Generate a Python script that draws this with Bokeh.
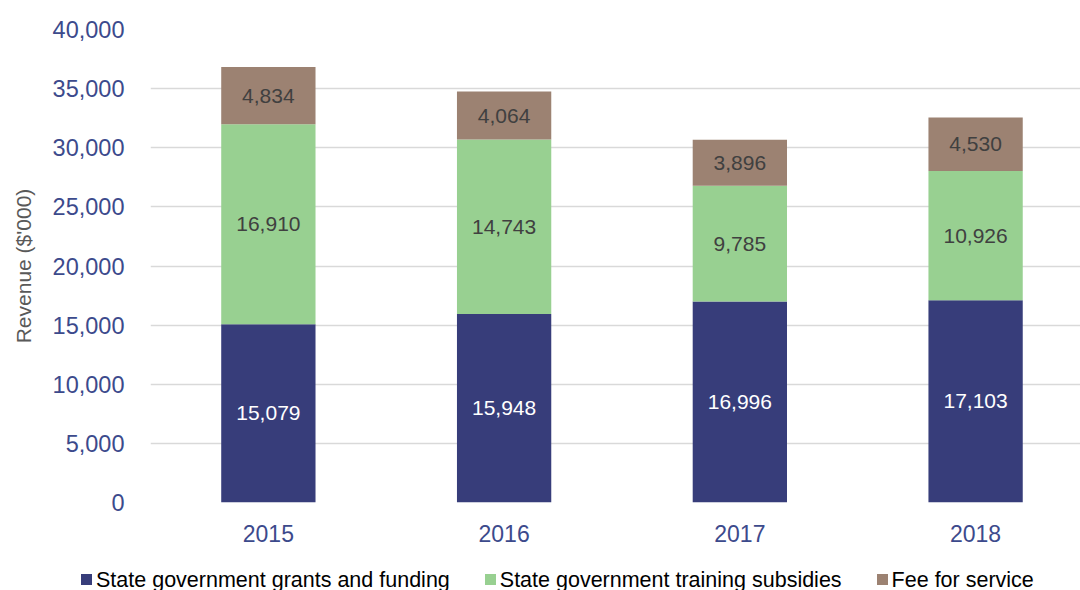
from bokeh.plotting import figure
from bokeh.layouts import column
from bokeh.models import ColumnDataSource, Range1d, FixedTicker, NumeralTickFormatter, Div
from bokeh.core.properties import value
from bokeh.embed import file_html
from bokeh.resources import INLINE

years = ["2015", "2016", "2017", "2018"]
grants = [15079, 15948, 16996, 17103]
subsidies = [16910, 14743, 9785, 10926]
fees = [4834, 4064, 3896, 4530]
series_names = ["State government grants and funding", "State government training subsidies", "Fee for service"]
colors = ["#373D7A", "#98D091", "#9C8272"]
y_ticks = [0, 5000, 10000, 15000, 20000, 25000, 30000, 35000, 40000]

FONT = "Liberation Sans"
x = list(range(len(years)))

src = ColumnDataSource(dict(x=x, grants=grants, subsidies=subsidies, fees=fees))

p = figure(width=1080, height=564, output_backend="svg", toolbar_location=None,
           x_range=Range1d(-0.5, 3.445), y_range=Range1d(0, 40000),
           min_border_left=150, min_border_right=0, min_border_top=29, min_border_bottom=62)
p.outline_line_color = None
p.background_fill_color = "white"

renderers = p.vbar_stack(["grants", "subsidies", "fees"], x="x", width=0.4, source=src,
                         color=colors, line_color=None)

# value labels centred in each segment
mid_g = [g / 2 for g in grants]
mid_s = [g + s / 2 for g, s in zip(grants, subsidies)]
mid_f = [g + s + f / 2 for g, s, f in zip(grants, subsidies, fees)]
fmt = lambda v: f"{v:,}"
p.text(x=x, y=mid_g, text=[fmt(v) for v in grants], text_align="center", text_baseline="middle",
       text_font=value(FONT), text_font_size="21px", text_color="white")
p.text(x=x, y=mid_s, text=[fmt(v) for v in subsidies], text_align="center", text_baseline="middle",
       text_font=value(FONT), text_font_size="21px", text_color="#404040")
p.text(x=x, y=mid_f, text=[fmt(v) for v in fees], text_align="center", text_baseline="middle",
       text_font=value(FONT), text_font_size="21px", text_color="#404040")

# axes
p.xaxis.ticker = FixedTicker(ticks=x)
p.xaxis.major_label_overrides = {i: y for i, y in zip(x, years)}
p.xaxis.axis_line_color = None
p.xaxis.major_tick_line_color = None
p.xaxis.minor_tick_line_color = None
p.xaxis.major_label_text_font = FONT
p.xaxis.major_label_text_font_size = "23px"
p.xaxis.major_label_text_color = "#3C4A8C"
p.xaxis.major_label_standoff = 16

p.yaxis.ticker = FixedTicker(ticks=y_ticks)
p.yaxis.formatter = NumeralTickFormatter(format="0,0")
p.yaxis.axis_line_color = None
p.yaxis.major_tick_line_color = None
p.yaxis.minor_tick_line_color = None
p.yaxis.major_label_text_font = FONT
p.yaxis.major_label_text_font_size = "23.5px"
p.yaxis.major_label_text_color = "#3C4A8C"
p.yaxis.major_label_standoff = 20
p.yaxis.axis_label = "Revenue ($'000)"
p.yaxis.axis_label_text_font = FONT
p.yaxis.axis_label_text_font_size = "21px"
p.yaxis.axis_label_text_font_style = "normal"
p.yaxis.axis_label_text_color = "#595959"
p.yaxis.axis_label_standoff = 15

p.xgrid.grid_line_color = None
p.ygrid.grid_line_color = "#D9D9D9"
p.ygrid.grid_line_width = 1.5
p.ygrid.ticker = FixedTicker(ticks=y_ticks)

# legend row (HTML, built from the series names and colours)
parts = []
for i, (name, col) in enumerate(zip(series_names, colors)):
    gap = "0" if i == 0 else "35px"
    parts.append(
        f'<span style="display:inline-block;width:11px;height:11px;background:{col};'
        f'margin-left:{gap};margin-right:4px;vertical-align:middle;position:relative;top:-1px"></span>'
        f'<span style="vertical-align:middle">{name}</span>'
    )
legend_html = (
    f'<div style="font-family:\'{FONT}\';font-size:21.5px;color:#000000;white-space:nowrap;'
    f'line-height:26px;padding-left:81px;position:relative;top:2px">' + "".join(parts) + "</div>"
)
legend_div = Div(text=legend_html, width=1080, height=26, margin=0,
                 styles={"padding": "0", "margin": "0"})

layout = column(p, legend_div, spacing=0)
open("out.html", "w").write(file_html(layout, INLINE))
